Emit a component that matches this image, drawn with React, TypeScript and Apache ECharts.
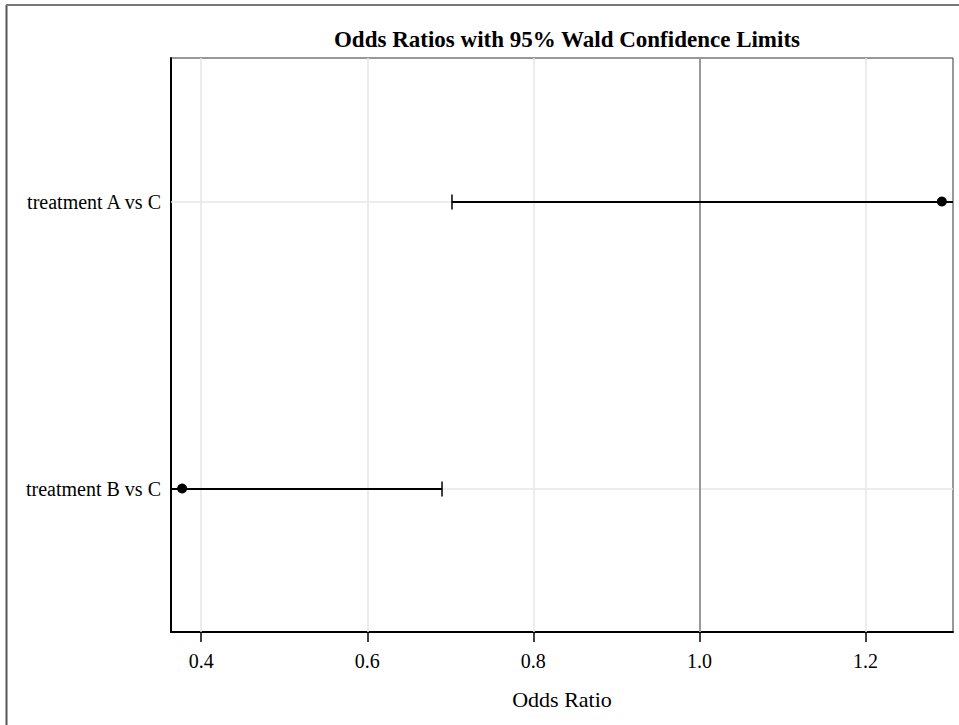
import React, { useEffect, useRef } from "react";
import * as echarts from "echarts";

const categories = ["treatment B vs C", "treatment A vs C"];
const oddsRatios = [0.377, 1.292];
const lowerLimits = [0.206, 0.702];
const upperLimits = [0.69, 2.38];
const xTicks = [0.4, 0.6, 0.8, 1.0, 1.2];
const xMin = 0.3636;
const xMax = 1.3054;
const referenceValue = 1.0;
const titleText = "Odds Ratios with 95% Wald Confidence Limits";
const xAxisName = "Odds Ratio";

const FONT = "'Liberation Serif', 'Times New Roman', serif";

export default function App() {
  const ref = useRef<HTMLDivElement>(null);
  useEffect(() => {
    if (!ref.current) return;
    const chart = echarts.init(ref.current, null, { renderer: "svg" });
    const option: any = {
      animation: false,
      backgroundColor: "#fff",
      title: {
        text: titleText,
        left: 562,
        textAlign: "center",
        top: 23,
        textStyle: { fontFamily: FONT, fontSize: 23, fontWeight: "bold", color: "#000" },
      },
      graphic: [
        { type: "line", shape: { x1: 6.5, y1: 5, x2: 6.5, y2: 725 }, style: { stroke: "#555", lineWidth: 2 } },
        { type: "line", shape: { x1: 6, y1: 5, x2: 959, y2: 5 }, style: { stroke: "#777", lineWidth: 2 } },
      ],
      grid: { left: 171, top: 58, right: 6, bottom: 93, show: true, borderColor: "#333", borderWidth: 1, containLabel: false },
      xAxis: {
        type: "value",
        min: xMin,
        max: xMax,
        name: xAxisName,
        nameLocation: "middle",
        nameGap: 56,
        nameTextStyle: { fontFamily: FONT, fontSize: 22, color: "#000" },
        axisLine: { show: true, lineStyle: { color: "#000", width: 2 } },
        axisTick: { show: true, customValues: xTicks, length: 10, lineStyle: { color: "#000", width: 1.5 } },
        axisLabel: {
          customValues: xTicks,
          formatter: (v: number) => v.toFixed(1),
          fontFamily: FONT,
          fontSize: 20,
          color: "#000",
          margin: 19,
        },
        splitLine: { show: false },
      },
      yAxis: {
        type: "category",
        data: categories,
        axisLine: { show: true, lineStyle: { color: "#000", width: 2 } },
        axisTick: { show: false },
        axisLabel: { fontFamily: FONT, fontSize: 20, color: "#000", margin: 10 },
        splitLine: { show: false },
      },
      series: [
        {
          type: "line",
          data: [],
          z: 1,
          silent: true,
          markLine: {
            z: 1,
            silent: true,
            symbol: "none",
            label: { show: false },
            lineStyle: { color: "#e6e6e6", width: 1.5, type: "solid" },
            data: [
              ...xTicks.map((v) => ({ xAxis: v })),
              ...categories.map((c) => ({ yAxis: c })),
            ],
          },
        },
        {
          type: "line",
          data: [],
          z: 2,
          silent: true,
          markLine: {
            z: 2,
            silent: true,
            symbol: "none",
            label: { show: false },
            lineStyle: { color: "#999", width: 2, type: "solid" },
            data: [{ xAxis: referenceValue }],
          },
        },
        {
          type: "custom",
          z: 10,
          silent: true,
          data: categories.map((c, i) => [i, lowerLimits[i], upperLimits[i]]),
          encode: { y: 0, x: [1, 2] },
          renderItem: (params: any, api: any) => {
            const cat = api.value(0);
            const lo = api.value(1);
            const hi = api.value(2);
            const pLo = api.coord([lo, cat]);
            const pHi = api.coord([hi, cat]);
            const cs = params.coordSys;
            const left = cs.x;
            const right = cs.x + cs.width;
            const y = Math.round(pLo[1]);
            const x1 = Math.max(pLo[0], left);
            const x2 = Math.min(pHi[0], right);
            const st = { stroke: "#000", lineWidth: 2, opacity: 1 };
            const children: any[] = [
              { type: "line", shape: { x1, y1: y, x2, y2: y }, style: st },
            ];
            const half = 7.5;
            if (pLo[0] >= left) children.push({ type: "line", shape: { x1: pLo[0], y1: y - half, x2: pLo[0], y2: y + half }, style: { stroke: "#000", lineWidth: 1.5 } });
            if (pHi[0] <= right) children.push({ type: "line", shape: { x1: pHi[0], y1: y - half, x2: pHi[0], y2: y + half }, style: { stroke: "#000", lineWidth: 1.5 } });
            return { type: "group", children };
          },
        },
        {
          type: "scatter",
          z: 11,
          silent: true,
          symbol: "circle",
          symbolSize: 10,
          itemStyle: { color: "#000", opacity: 1 },
          data: categories.map((c, i) => [oddsRatios[i], c]),
        },
      ],
    };
    chart.setOption(option);
    return () => chart.dispose();
  }, []);
  return (
    <div
      ref={ref}
      style={{ position: "fixed", left: 0, top: 0, width: 959, height: 725 }}
    />
  );
}
